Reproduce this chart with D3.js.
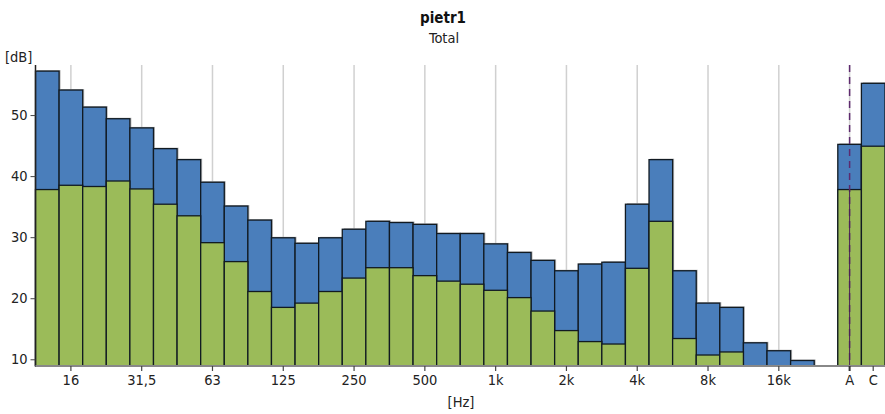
<!DOCTYPE html>
<html>
<head>
<meta charset="utf-8">
<script src="https://cdn.jsdelivr.net/npm/d3@7/dist/d3.min.js"></script>
<style>
  html, body { margin: 0; padding: 0; background: #fff; }
  svg { display: block; }
  svg text { font-family: "DejaVu Sans Condensed", "DejaVu Sans", sans-serif; font-stretch: condensed; }
</style>
</head>
<body>
<svg id="chart" width="885" height="414"></svg>
<script>
// 1/3-octave band centre frequencies and the two weighted totals
const bands = ["12.5","16","20","25","31.5","40","50","63","80","100","125","160","200","250","315","400","500","630","800","1k","1.25k","1.6k","2k","2.5k","3.15k","4k","5k","6.3k","8k","10k","12.5k","16k","20k"];
const totals = ["A", "C"];

// Level per band [dB]: overall (blue) and the second series drawn in front (green)
const levelTotal = [57.2, 54.1, 51.3, 49.4, 47.9, 44.5, 42.7, 39.0, 35.1, 32.8, 29.9, 29.0, 29.9, 31.3, 32.6, 32.4, 32.1, 30.6, 30.6, 28.9, 27.5, 26.2, 24.5, 25.6, 25.9, 35.4, 42.7, 24.5, 19.2, 18.5, 12.7, 11.4, 9.8];
const levelPart  = [37.8, 38.5, 38.3, 39.2, 37.9, 35.4, 33.5, 29.1, 26.0, 21.1, 18.5, 19.2, 21.1, 23.3, 25.0, 25.0, 23.7, 22.8, 22.3, 21.3, 20.1, 17.9, 14.7, 12.9, 12.5, 24.9, 32.6, 13.4, 10.7, 11.2, null, null, null];
const weightedTotal = [45.2, 55.2];
const weightedPart  = [37.8, 44.9];

// Axis labels
const xTickLabels = ["16", "31.5", "63", "125", "250", "500", "1k", "2k", "4k", "8k", "16k", "A", "C"];
const yTicks = [10, 20, 30, 40, 50];
const title = "pietr1";
const subtitle = "Total";

const svg = d3.select("#chart");
const W = 885, H = 414;
const margin = { left: 35.5, right: 0, top: 65, bottom: 48 };
const plotBottom = H - margin.bottom;
const fontSize = 14.5;

const gapKey = "_gap";
const slots = bands.concat([gapKey], totals);

const x = d3.scaleBand().domain(slots).range([margin.left, W - margin.right]).padding(0);
const y = d3.scaleLinear().domain([8.9, 58.2]).range([plotBottom, margin.top]);

const blue = "#4a7ebb";
const green = "#9bbb59";
const edge = "#111a22";

const rows = bands.map((b, i) => ({ key: b, total: levelTotal[i], part: levelPart[i] }))
  .concat(totals.map((t, i) => ({ key: t, total: weightedTotal[i], part: weightedPart[i] })));

// Vertical gridlines at labelled frequencies
const gridKeys = xTickLabels.filter(k => k !== "C");
svg.append("g").selectAll("line").data(gridKeys).join("line")
  .attr("x1", d => x(d) + x.bandwidth() / 2)
  .attr("x2", d => x(d) + x.bandwidth() / 2)
  .attr("y1", margin.top).attr("y2", plotBottom)
  .attr("stroke", "#d0d0d0").attr("stroke-width", 1.5);

// Soft shadow behind the bars
svg.append("g").selectAll("rect").data(rows).join("rect")
  .attr("x", d => x(d.key) + 1.5)
  .attr("y", d => y(d.total) - 1)
  .attr("width", x.bandwidth())
  .attr("height", d => plotBottom - y(d.total) + 1)
  .attr("fill", "#b8b8b8");

// Overall level bars
svg.append("g").selectAll("rect").data(rows).join("rect")
  .attr("x", d => x(d.key))
  .attr("y", d => y(d.total))
  .attr("width", x.bandwidth())
  .attr("height", d => plotBottom - y(d.total))
  .attr("fill", blue).attr("stroke", edge).attr("stroke-width", 1.3);

// Second series in front
svg.append("g").selectAll("rect").data(rows.filter(d => d.part != null)).join("rect")
  .attr("x", d => x(d.key))
  .attr("y", d => y(d.part))
  .attr("width", x.bandwidth())
  .attr("height", d => plotBottom - y(d.part))
  .attr("fill", green).attr("stroke", edge).attr("stroke-width", 1.3);

// Marker line through the A-weighted total
const ax = x("A") + x.bandwidth() / 2;
svg.append("line")
  .attr("x1", ax).attr("x2", ax)
  .attr("y1", margin.top).attr("y2", plotBottom)
  .attr("stroke", "#5e2a6e").attr("stroke-width", 1.5)
  .attr("stroke-dasharray", "7,5");
svg.append("line")
  .attr("x1", ax).attr("x2", ax)
  .attr("y1", y(weightedPart[0])).attr("y2", plotBottom)
  .attr("stroke", "#4a1f55").attr("stroke-width", 1);

// Y axis
const yAxis = d3.axisLeft(y).tickValues(yTicks).tickSize(5).tickPadding(3);
const gy = svg.append("g").attr("transform", `translate(${margin.left},0)`).call(yAxis);
gy.attr("font-family", null).attr("font-size", null);
gy.select(".domain").attr("stroke", "#222").attr("stroke-width", 1.5)
  .attr("d", `M0,${margin.top}V${plotBottom}`);
gy.selectAll(".tick line").attr("stroke", "#444");
gy.selectAll("text").attr("font-size", fontSize).attr("fill", "#222");

// X axis
const xAxis = d3.axisBottom(x).tickValues(xTickLabels).tickSize(5).tickPadding(4)
  .tickFormat(d => d.replace(".", ","));
const gx = svg.append("g").attr("transform", `translate(0,${plotBottom})`).call(xAxis);
gx.attr("font-family", null).attr("font-size", null);
gx.select(".domain").attr("stroke", "#888").attr("stroke-width", 2)
  .attr("d", `M${margin.left},0H${W}`);
gx.selectAll(".tick line").attr("stroke", "#444").attr("stroke-width", 1.2);
gx.selectAll(".tick").filter(d => d === "A").select("line").attr("stroke", "#333").attr("stroke-width", 2);
gx.selectAll("text").attr("font-size", fontSize).attr("fill", "#222");

// Unit labels
svg.append("text").attr("x", 5).attr("y", 62).attr("font-size", fontSize).attr("fill", "#222").text("[dB]");
svg.append("text").attr("x", 461).attr("y", 407).attr("text-anchor", "middle")
  .attr("font-size", fontSize).attr("fill", "#222").text("[Hz]");

// Titles
svg.append("text").attr("x", 443).attr("y", 23).attr("text-anchor", "middle")
  .attr("font-size", 15).attr("font-weight", "bold").attr("fill", "#111").text(title);
svg.append("text").attr("x", 444).attr("y", 43).attr("text-anchor", "middle")
  .attr("font-size", fontSize).attr("fill", "#222").text(subtitle);
</script>
</body>
</html>
